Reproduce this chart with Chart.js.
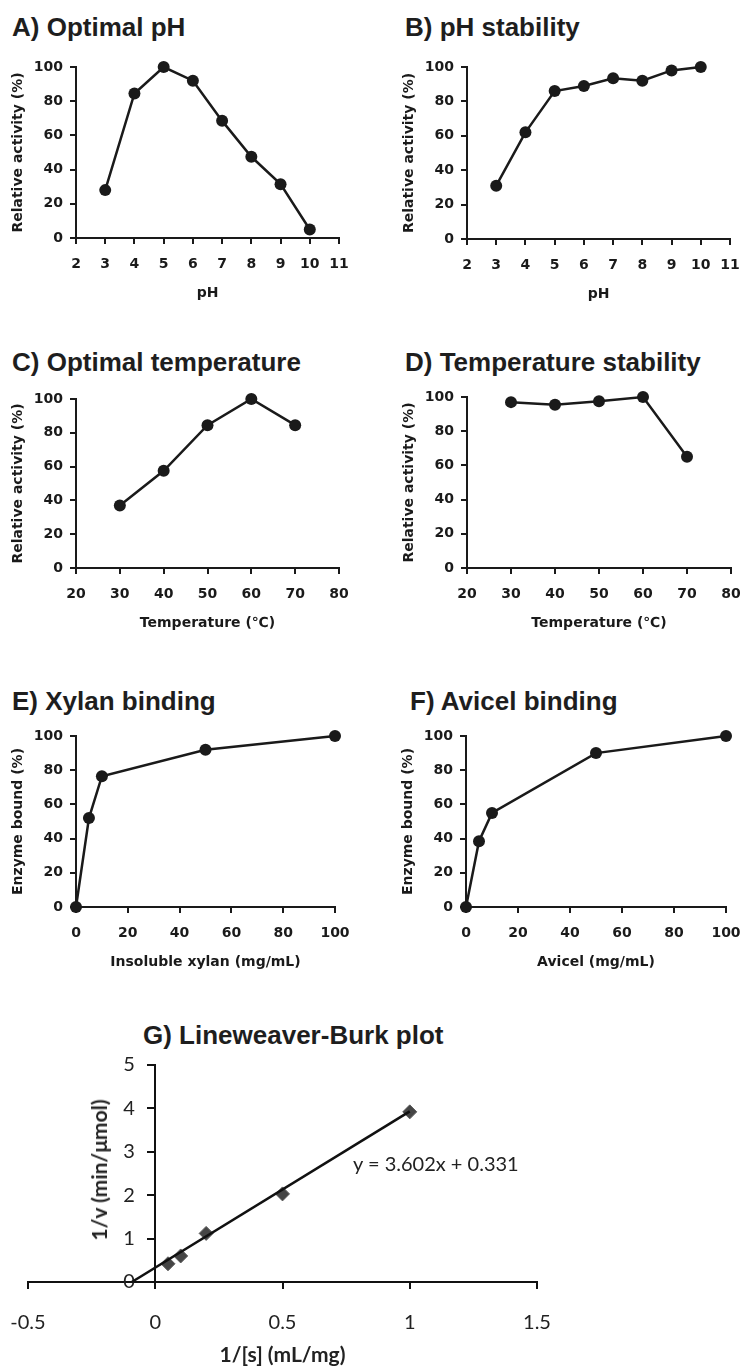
<!DOCTYPE html>
<html>
<head>
<meta charset="utf-8">
<script src="https://cdn.jsdelivr.net/npm/chart.js@4.4.1/dist/chart.umd.min.js"></script>
<style>
  body { margin: 0; background: #fff; }
  #page { position: relative; width: 740px; height: 1368px; overflow: hidden; }
  canvas { position: absolute; }
  .ttl { position: absolute; white-space: nowrap; color: #1e1e1e;
         font: bold 26px/26px "Liberation Sans", Arial, sans-serif; }
  .gy { position: absolute; white-space: nowrap; color: #222;
        font: bold 21px/22px Lato, sans-serif; transform: translate(-50%, -50%) rotate(-90deg); }
  .eq { position: absolute; white-space: nowrap; color: #222; font: 20px/22px Lato, sans-serif; }
</style>
</head>
<body>
<div id="page">
  <div class="ttl" style="left:12px;top:14px">A) Optimal pH</div>
  <div class="ttl" style="left:405px;top:14px">B) pH stability</div>
  <div class="ttl" style="left:12px;top:349px">C) Optimal temperature</div>
  <div class="ttl" style="left:405px;top:349px">D) Temperature stability</div>
  <div class="ttl" style="left:12px;top:688px">E) Xylan binding</div>
  <div class="ttl" style="left:410px;top:688px">F) Avicel binding</div>
  <div class="ttl" style="left:143px;top:1022px">G) Lineweaver-Burk plot</div>

  <canvas id="chartA"></canvas>
  <canvas id="chartB"></canvas>
  <canvas id="chartC"></canvas>
  <canvas id="chartD"></canvas>
  <canvas id="chartE"></canvas>
  <canvas id="chartF"></canvas>
  <canvas id="chartG"></canvas>

  <div class="gy" style="left:99px;top:1170px">1/v (min/μmol)</div>
  <div class="eq" style="left:353px;top:1152px">y = 3.602x + 0.331</div>
</div>

<script>
// values
const phValues = [3, 4, 5, 6, 7, 8, 9, 10];
const optimalPhActivity = [28, 84.5, 100, 92, 68.5, 47.5, 31.5, 5];
const phStabilityActivity = [31, 62, 86, 89, 93.5, 92, 98, 100];

const tempValues = [30, 40, 50, 60, 70];
const optimalTempActivity = [37, 57.5, 84.5, 100, 84.5];
const tempStabilityActivity = [97, 95.5, 97.5, 100, 65];

const bindingConc = [0, 5, 10, 50, 100];
const xylanBound = [0, 52, 76.5, 92, 100];
const avicelBound = [0, 38.5, 55, 90, 100];

const lbInvS = [0.05, 0.1, 0.2, 0.5, 1];
const lbInvV = [0.42, 0.6, 1.12, 2.03, 3.92];
const trendX = [-0.092, 1];
const trendY = [0, 3.933];

const ink = '#1a1a1a';
const tickFont = { family: 'DejaVu Sans', weight: 'bold', size: 14 };
const axisTitleFont = { family: 'DejaVu Sans', weight: 'bold', size: 14 };

const toPoints = (xs, ys) => xs.map((x, i) => ({ x: x, y: ys[i] }));

// prism style panel; area = [left, top, right, bottom] of the plot box on the page
function prismPanel(id, area, xs, ys, xr, xTitle, yTitle) {
  const canvas = document.getElementById(id);
  const left = area[0] - 76, top = area[1] - 24;
  canvas.width = area[2] - left + 32;
  canvas.height = area[3] - top + 78;
  canvas.style.left = left + 'px';
  canvas.style.top = top + 'px';

  return new Chart(canvas, {
    type: 'scatter',
    data: {
      datasets: [{
        data: toPoints(xs, ys),
        showLine: true,
        borderColor: ink,
        borderWidth: 2.5,
        backgroundColor: ink,
        pointRadius: 6,
        pointBorderWidth: 0,
        clip: false
      }]
    },
    options: {
      responsive: false,
      animation: false,
      layout: { padding: { left: 0, top: 24, right: 32, bottom: 0 } },
      plugins: { legend: { display: false }, tooltip: { enabled: false } },
      scales: {
        x: {
          type: 'linear', min: xr[0], max: xr[1],
          ticks: { stepSize: xr[2], color: ink, font: tickFont, padding: 12, maxRotation: 0, autoSkip: false },
          grid: { drawOnChartArea: false, tickLength: 6, color: ink, lineWidth: 2 },
          border: { color: ink, width: 2 },
          title: { display: true, text: xTitle, color: ink, font: axisTitleFont, padding: { top: 0, bottom: 14 } },
          afterFit: s => { s.height = 78; }
        },
        y: {
          min: 0, max: 100,
          ticks: { stepSize: 20, color: ink, font: tickFont, padding: 7 },
          grid: { drawOnChartArea: false, tickLength: 6, color: ink, lineWidth: 2 },
          border: { color: ink, width: 2 },
          title: { display: true, text: yTitle, color: ink, font: axisTitleFont, padding: { top: 10, bottom: 0 } },
          afterFit: s => { s.width = 76; }
        }
      }
    }
  });
}

prismPanel('chartA', [76, 67, 339, 238], phValues, optimalPhActivity, [2, 11, 1], 'pH', 'Relative activity (%)');
prismPanel('chartB', [467, 67, 730, 239], phValues, phStabilityActivity, [2, 11, 1], 'pH', 'Relative activity (%)');
prismPanel('chartC', [76, 399, 339, 568], tempValues, optimalTempActivity, [20, 80, 10], 'Temperature (℃)', 'Relative activity (%)');
prismPanel('chartD', [467, 397, 731, 568], tempValues, tempStabilityActivity, [20, 80, 10], 'Temperature (℃)', 'Relative activity (%)');
prismPanel('chartE', [76, 736, 335, 907], bindingConc, xylanBound, [0, 100, 20], 'Insoluble xylan (mg/mL)', 'Enzyme bound (%)');
prismPanel('chartF', [466, 736, 726, 907], bindingConc, avicelBound, [0, 100, 20], 'Avicel (mg/mL)', 'Enzyme bound (%)');

// G) Lineweaver-Burk, plot box from x=28 to 537, y=1065 to 1282 on the page
const cg = document.getElementById('chartG');
const gPadLeft = 50;
cg.width = 740 + gPadLeft - 28; cg.height = 328;
cg.style.left = (28 - gPadLeft) + 'px'; cg.style.top = '1040px';
const lbFont = { family: 'Lato', size: 20 };

new Chart(cg, {
  type: 'scatter',
  data: {
    datasets: [{
      data: toPoints(trendX, trendY),
      showLine: true,
      borderColor: '#111',
      borderWidth: 2.6,
      pointRadius: 0,
      clip: false
    }, {
      data: toPoints(lbInvS, lbInvV),
      pointStyle: 'rectRot',
      pointRadius: 7,
      backgroundColor: '#454545',
      borderColor: '#5a5a5a',
      borderWidth: 1,
      clip: false
    }]
  },
  options: {
    responsive: false,
    animation: false,
    layout: { padding: { left: gPadLeft, top: 25, right: 203, bottom: 0 } },
    plugins: { legend: { display: false }, tooltip: { enabled: false } },
    scales: {
      x: {
        type: 'linear', min: -0.5, max: 1.5,
        ticks: { stepSize: 0.5, color: '#222', font: lbFont, padding: 22, maxRotation: 0, autoSkip: false,
                 callback: v => String(v) },
        grid: { drawOnChartArea: false, tickLength: 7, color: '#111', lineWidth: 2 },
        border: { color: '#111', width: 2 },
        title: { display: true, text: '1/[s] (mL/mg)', color: '#222', font: { family: 'Lato', size: 21, weight: 'bold' },
                 padding: { top: 0, bottom: 0 } },
        afterFit: s => { s.height = 86; }
      },
      y: {
        position: { x: 0 },
        min: 0, max: 5,
        // label sits right at the axis when it is placed by value, so pad it with spaces
        ticks: { stepSize: 1, color: '#222', font: lbFont, callback: v => String(v) + '    ' },
        grid: { drawOnChartArea: false, tickLength: 7, color: '#111', lineWidth: 2 },
        border: { color: '#111', width: 2 }
      }
    }
  }
});
</script>
</body>
</html>
